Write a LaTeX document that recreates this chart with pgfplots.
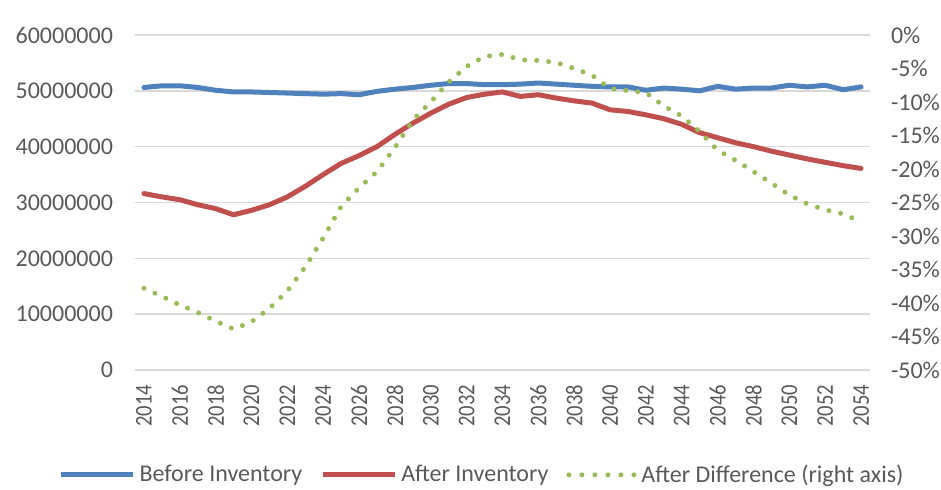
\documentclass[border=0pt]{standalone}
\usepackage{pgfplots}
\pgfplotsset{compat=1.18}
\usepackage{pgfplotstable}
\usepackage{fontspec}
\setmainfont{Carlito}

\definecolor{xlblue}{HTML}{4F81BD}
\definecolor{xlred}{HTML}{C0504D}
\definecolor{xlgreen}{HTML}{9BBB59}
\definecolor{xlgrid}{HTML}{D9D9D9}
\definecolor{xltext}{HTML}{595959}

% year, before, after
\pgfplotstableread{
year before after
2014 50600000 31600000
2015 50900000 31000000
2016 50900000 30500000
2017 50600000 29600000
2018 50100000 28900000
2019 49800000 27800000
2020 49800000 28600000
2021 49700000 29600000
2022 49600000 31000000
2023 49500000 32900000
2024 49400000 35000000
2025 49500000 37000000
2026 49300000 38400000
2027 49900000 40000000
2028 50300000 42200000
2029 50600000 44200000
2030 51000000 46000000
2031 51300000 47600000
2032 51300000 48800000
2033 51100000 49400000
2034 51100000 49800000
2035 51200000 49000000
2036 51400000 49300000
2037 51200000 48700000
2038 51000000 48200000
2039 50800000 47800000
2040 50700000 46600000
2041 50700000 46300000
2042 50100000 45700000
2043 50500000 45000000
2044 50300000 44000000
2045 50000000 42500000
2046 50800000 41600000
2047 50300000 40700000
2048 50500000 40000000
2049 50500000 39200000
2050 51000000 38500000
2051 50700000 37800000
2052 51000000 37200000
2053 50200000 36600000
2054 50700000 36100000
}\inventory

% year, difference in percent
\pgfplotstableread{
year diff
2014 -37.8
2015 -39.0
2016 -40.3
2017 -41.4
2018 -42.7
2019 -43.9
2020 -42.8
2021 -40.8
2022 -38.2
2023 -34.6
2024 -30.3
2025 -25.6
2026 -22.8
2027 -20.4
2028 -16.8
2029 -12.7
2030 -10.0
2031 -7.0
2032 -4.7
2033 -3.2
2034 -2.9
2035 -3.7
2036 -3.8
2037 -4.1
2038 -5.0
2039 -6.0
2040 -8.0
2041 -8.3
2042 -8.6
2043 -10.6
2044 -12.1
2045 -14.4
2046 -17.2
2047 -18.7
2048 -20.4
2049 -22.1
2050 -23.9
2051 -25.2
2052 -26.1
2053 -26.7
2054 -27.9
}\difference

\pgfplotsset{
  common/.style={
    scale only axis,
    width=367.5pt, height=167.5pt,
    at={(0,0)}, anchor=south west,
    xmin=2013.5, xmax=2054.5,
    enlarge x limits=false,
    scaled y ticks=false,
    tick style={draw=none},
    axis line style={draw=none},
    tick label style={font=\fontsize{12}{14}\selectfont, text=xltext},
    /pgf/number format/assume math mode=true,
    /pgf/number format/1000 sep={},
  },
  legline/.style={legend image code/.code={
    \draw[##1] (0pt,0pt) -- (36pt,0pt);}},
  legdots/.style={legend image code/.code={
    \draw[##1, dash pattern=on 0pt off 6.5pt] (1pt,0pt) -- (34pt,0pt);}},
}

\begin{document}
\begin{tikzpicture}
\path[use as bounding box] (-67.5pt,-60pt) rectangle (403pt,185pt);

% left axis: inventory
\begin{axis}[
  common,
  ymin=0, ymax=60000000,
  ytick={0,10000000,20000000,30000000,40000000,50000000,60000000},
  yticklabels={0,10000000,20000000,30000000,40000000,50000000,60000000},
  yticklabel style={xshift=-7.5pt},
  ymajorgrids,
  grid style={xlgrid, line width=0.75pt},
  xtick={2014,2016,...,2054},
  % the shift below acts along the rotated text, i.e. downwards
  xticklabel style={rotate=90, anchor=east, xshift=-4.5pt, xscale=0.86,
    font=\fontsize{12}{14}\selectfont},
]
\addplot[xlblue, line width=2.5pt, line join=round, line cap=round]
  table[x=year, y=before] {\inventory};
\addplot[xlred, line width=2.5pt, line join=round, line cap=round]
  table[x=year, y=after] {\inventory};
\end{axis}

% right axis: difference
\begin{axis}[
  common,
  axis x line=none,
  axis y line*=right,
  ymin=-50, ymax=0,
  ytick={-50,-45,...,0},
  yticklabels={-50\%,-45\%,-40\%,-35\%,-30\%,-25\%,-20\%,-15\%,-10\%,-5\%,0\%},
  yticklabel style={anchor=west, xshift=7pt},
  legend style={
    at={(0.4735,-0.313)}, anchor=center,
    draw=none, fill=none,
    font=\fontsize{12}{14}\selectfont, text=xltext,
    legend columns=-1,
    /tikz/every even column/.append style={column sep=7pt},
  },
  legend cell align=left,
]
\addlegendimage{xlblue, line width=2.5pt, legline}
\addlegendentry{Before Inventory}
\addlegendimage{xlred, line width=2.5pt, legline}
\addlegendentry{After Inventory}
\addplot[xlgreen, line width=2.5pt, line cap=round, dash pattern=on 0pt off 6pt,
  legdots]
  table[x=year, y=diff] {\difference};
\addlegendentry{After Difference (right axis)}
\end{axis}
\end{tikzpicture}
\end{document}
